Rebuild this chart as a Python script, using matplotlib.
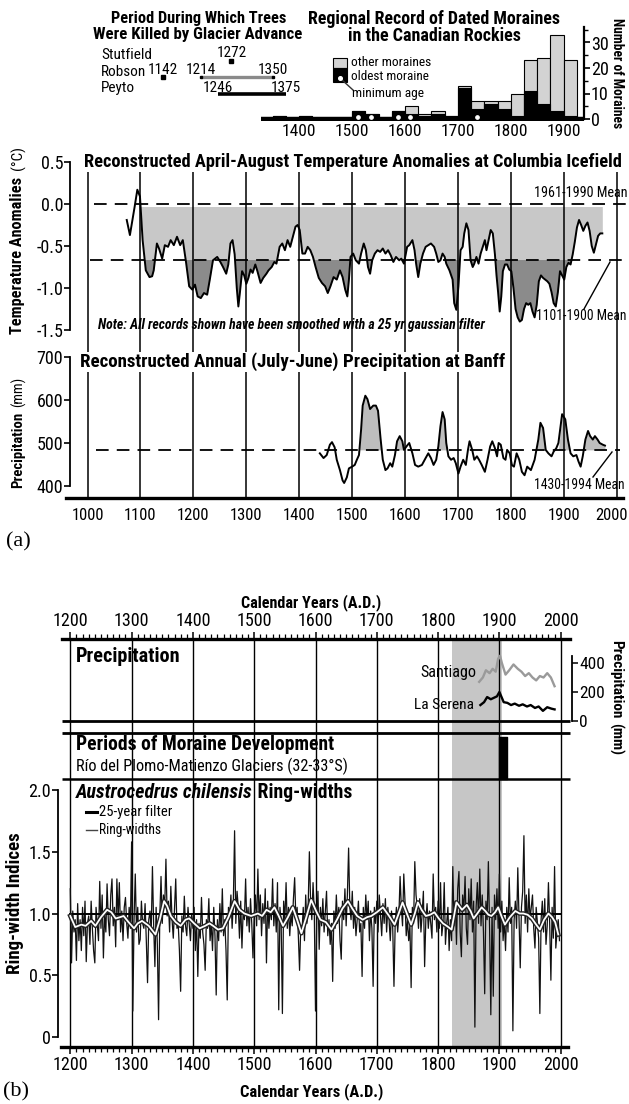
import numpy as np
import matplotlib
matplotlib.use("Agg")
import matplotlib.pyplot as plt
import matplotlib.font_manager as fm
import matplotlib.patheffects as pe
from matplotlib.patches import Rectangle
from matplotlib.lines import Line2D

# ============================ DATA ============================
# (a) period during which trees were killed by glacier advance
stutfield_kill = [1272]
robson_kill_point = [1142]
robson_kill_span = [1214, 1350]
peyto_kill_span = [1246, 1375]

# (a) regional record of dated moraines (25-yr bins)
moraine_bin_start = [1350, 1375, 1400, 1425, 1450, 1475, 1500, 1525, 1550, 1575, 1600, 1625,
                     1650, 1675, 1700, 1725, 1750, 1775, 1800, 1825, 1850, 1875, 1900]
moraine_total = [1, 0, 1, 0, 0, 0, 3, 2, 0, 3, 5, 2, 3, 1, 13, 7, 7, 7, 10, 23, 24, 33, 23]
moraine_oldest = [1, 0, 1, 0, 0, 0, 3, 2, 0, 3, 2, 1, 2, 1, 12, 4, 6, 4, 1, 11, 6, 3, 1]
moraine_min_age = [1511, 1536, 1586, 1610, 1736]
hist_ticks = [1400, 1500, 1600, 1700, 1800, 1900]

# (a) Columbia Icefield April-August temperature anomalies (deg C), 25-yr smoothed
temp_record = [
    (1074, -0.19), (1080, -0.37), (1089, -0.03), (1094, 0.17), (1099, 0.09), (1104, -0.43),
    (1110, -0.79), (1117, -0.87), (1122, -0.86), (1125, -0.79), (1131, -0.47), (1135, -0.53),
    (1141, -0.65), (1146, -0.49), (1152, -0.51), (1157, -0.43), (1163, -0.49), (1169, -0.39),
    (1175, -0.49), (1180, -0.43), (1186, -0.69), (1192, -0.98), (1198, -1.02), (1203, -0.96),
    (1208, -1.10), (1214, -1.12), (1220, -1.06), (1226, -1.08), (1231, -0.90), (1237, -0.67),
    (1245, -0.63), (1251, -0.69), (1256, -0.75), (1262, -0.83), (1266, -0.72), (1270, -0.47),
    (1274, -0.43), (1278, -0.60), (1282, -1.00), (1285, -1.22), (1288, -1.05), (1292, -0.80),
    (1296, -0.85), (1300, -0.95), (1304, -0.88), (1308, -0.78), (1312, -0.82), (1317, -0.72),
    (1321, -0.80), (1327, -0.94), (1332, -0.88), (1338, -0.83), (1342, -0.79), (1348, -0.75),
    (1353, -0.69), (1357, -0.71), (1363, -0.51), (1368, -0.47), (1373, -0.55), (1378, -0.43),
    (1383, -0.51), (1388, -0.39), (1393, -0.27), (1397, -0.25), (1401, -0.31), (1406, -0.59),
    (1411, -0.59), (1416, -0.51), (1421, -0.55), (1426, -0.63), (1431, -0.75), (1437, -0.88),
    (1443, -0.94), (1449, -0.98), (1454, -1.06), (1459, -0.98), (1465, -0.87), (1471, -0.90),
    (1477, -0.79), (1482, -0.87), (1487, -1.02), (1491, -1.10), (1494, -0.90), (1497, -0.63),
    (1502, -0.59), (1507, -0.67), (1513, -0.71), (1517, -0.59), (1522, -0.47), (1526, -0.55),
    (1530, -0.75), (1534, -0.83), (1538, -0.67), (1543, -0.59), (1548, -0.55), (1553, -0.57),
    (1558, -0.53), (1563, -0.59), (1568, -0.55), (1573, -0.61), (1578, -0.69), (1583, -0.63),
    (1589, -0.67), (1593, -0.65), (1598, -0.71), (1604, -0.51), (1608, -0.49), (1614, -0.43),
    (1618, -0.55), (1621, -0.71), (1625, -0.87), (1629, -0.71), (1634, -0.59), (1639, -0.51),
    (1644, -0.49), (1649, -0.47), (1655, -0.51), (1659, -0.59), (1663, -0.69), (1667, -0.67),
    (1671, -0.59), (1675, -0.63), (1678, -0.71), (1684, -0.79), (1690, -0.90), (1693, -1.18),
    (1697, -1.26), (1701, -0.98), (1705, -0.55), (1709, -0.51), (1712, -0.35), (1716, -0.23),
    (1720, -0.31), (1724, -0.67), (1728, -0.75), (1731, -0.71), (1735, -0.63), (1739, -0.71),
    (1743, -0.59), (1747, -0.51), (1751, -0.43), (1754, -0.55), (1758, -0.43), (1762, -0.31),
    (1766, -0.35), (1770, -0.60), (1773, -0.85), (1776, -1.05), (1779, -1.28), (1782, -1.10),
    (1785, -0.80), (1789, -0.72), (1793, -0.72), (1797, -0.78), (1801, -0.80), (1805, -1.00),
    (1809, -1.25), (1813, -1.35), (1817, -1.40), (1821, -1.38), (1825, -1.25), (1829, -1.18),
    (1833, -1.20), (1837, -1.18), (1841, -1.28), (1845, -1.35), (1849, -1.20), (1853, -0.92),
    (1857, -0.85), (1861, -0.88), (1865, -0.90), (1869, -0.92), (1873, -0.95), (1877, -1.05),
    (1881, -1.18), (1885, -1.22), (1889, -1.05), (1893, -0.80), (1897, -0.85), (1901, -0.90),
    (1905, -0.75), (1909, -0.70), (1913, -0.72), (1917, -0.60), (1921, -0.45), (1925, -0.28),
    (1929, -0.19), (1933, -0.25), (1937, -0.32), (1941, -0.26), (1945, -0.22), (1949, -0.32),
    (1953, -0.50), (1957, -0.58), (1961, -0.48), (1965, -0.38), (1969, -0.35), (1973, -0.35),
]
temp_mean_1961_1990 = 0.0
temp_mean_1101_1900 = -0.667
temp_ticks = [0.5, 0.0, -0.5, -1.0, -1.5]

# (a) Banff annual (July-June) precipitation (mm), 25-yr smoothed
banff_record = [
    (1439, 476), (1446, 465), (1452, 472), (1458, 496), (1462, 502), (1467, 490), (1471, 461),
    (1477, 437), (1482, 413), (1485, 407), (1490, 420), (1494, 441), (1500, 445), (1505, 449),
    (1509, 461), (1513, 472), (1517, 531), (1520, 587), (1525, 610), (1529, 602), (1534, 579),
    (1540, 587), (1545, 587), (1549, 575), (1554, 508), (1558, 461), (1563, 437), (1567, 441),
    (1572, 453), (1576, 445), (1581, 472), (1585, 504), (1590, 516), (1595, 504), (1598, 484),
    (1604, 494), (1608, 500), (1614, 476), (1619, 449), (1625, 445), (1632, 449), (1639, 465),
    (1644, 476), (1649, 465), (1654, 449), (1659, 461), (1663, 492), (1667, 539), (1671, 572),
    (1675, 555), (1678, 500), (1682, 469), (1687, 461), (1692, 465), (1696, 453), (1701, 429),
    (1705, 445), (1710, 461), (1715, 449), (1719, 484), (1722, 504), (1727, 484), (1731, 461),
    (1736, 469), (1740, 461), (1745, 449), (1751, 433), (1756, 461), (1761, 492), (1765, 504),
    (1770, 488), (1774, 469), (1777, 500), (1781, 496), (1786, 465), (1790, 461), (1793, 484),
    (1798, 476), (1802, 449), (1806, 445), (1811, 476), (1816, 461), (1821, 433), (1826, 425),
    (1831, 445), (1838, 437), (1845, 461), (1852, 508), (1856, 547), (1861, 535), (1866, 484),
    (1871, 476), (1877, 469), (1881, 480), (1886, 488), (1890, 500), (1897, 567), (1903, 555),
    (1908, 508), (1913, 476), (1918, 469), (1924, 472), (1928, 457), (1932, 445), (1936, 469),
    (1941, 508), (1946, 528), (1950, 516), (1955, 508), (1959, 516), (1964, 508), (1968, 500),
    (1974, 496), (1978, 494),
]
banff_mean = 484
banff_wet_periods = [(1515, 1556), (1585, 1597), (1663, 1679), (1849, 1866), (1892, 1911), (1939, 1978)]
banff_ticks = [400, 500, 600, 700]
axis_years_a = [1000, 1100, 1200, 1300, 1400, 1500, 1600, 1700, 1800, 1900, 2000]

# (b) instrumental precipitation (mm)
santiago_years = [1867, 1873, 1878, 1884, 1889, 1894, 1898, 1901, 1904, 1910, 1916, 1923,
                  1930, 1936, 1942, 1948, 1954, 1960, 1966, 1972, 1978, 1984, 1990]
santiago_precip = [270, 300, 350, 330, 360, 340, 430, 450, 400, 320, 350, 390,
                   360, 340, 310, 330, 300, 280, 310, 300, 330, 300, 240]
laserena_years = [1869, 1875, 1880, 1886, 1891, 1896, 1900, 1903, 1907, 1913, 1919,
                  1925, 1932, 1938, 1945, 1951, 1958, 1964, 1971, 1978, 1985, 1990]
laserena_precip = [110, 130, 165, 150, 160, 170, 200, 170, 130, 125, 110,
                   120, 105, 115, 100, 110, 90, 100, 70, 95, 85, 80]

# (b) moraine development & highlighted period
moraine_dev_periods = [(1900, 1913)]
highlight_period = (1822, 1905)

# (b) Austrocedrus chilensis ring-width indices, every second year 1200-1998
ring_years = list(range(1200, 2000, 2))
ring_width = [
    1.20, 0.60, 1.02, 0.85, 0.95,  0.62, 1.08, 0.78, 0.95, 0.70,  1.05, 0.82, 1.10, 0.61, 0.92,
    0.98, 0.75, 1.10, 0.88, 0.70,  0.60, 1.05, 0.92, 0.78, 1.26,  0.88, 1.15, 0.64, 1.00, 0.85,
    1.24, 0.95, 0.82, 1.15, 1.28,  0.90, 1.05, 0.73, 1.28, 0.95,  1.25, 0.85, 1.02, 0.78, 1.05,
    1.13, 0.92, 0.80, 1.05, 0.88,  1.58, 0.21, 0.95, 1.32, 0.85,  1.05, 0.75, 0.79, 1.10, 0.92,
    0.88, 1.08, 0.78, 0.44, 0.95,  1.02, 0.85, 1.38, 0.90, 0.57,  1.05, 0.75, 0.14, 0.98, 1.30,
    0.92, 1.15, 1.05, 1.44, 0.98,  1.10, 0.85, 1.22, 0.95, 0.80,  1.05, 1.28, 0.88, 0.92, 0.70,
    0.37, 0.98, 0.85, 1.14, 0.90,  0.82, 1.05, 0.92, 0.78, 1.00,  0.88, 1.05, 0.70, 0.95, 0.49,
    0.92, 0.80, 1.13, 0.85, 0.75,  0.54, 0.95, 0.88, 1.12, 0.78,  0.92, 0.70, 1.05, 0.82, 0.34,
    0.95, 0.78, 1.08, 0.85, 1.20,  0.82, 0.95, 0.70, 0.30, 1.05,  0.98, 1.15, 0.88, 1.10, 1.67,
    0.92, 1.18, 1.05, 0.80, 1.10,  0.72, 1.02, 0.95, 1.28, 0.90,  1.05, 0.85, 1.12, 0.92, 0.64,
    0.98, 1.15, 0.90, 1.36, 0.95,  1.15, 0.82, 1.08, 0.92, 1.20,  0.60, 1.10, 0.88, 1.05, 0.95,
    1.28, 0.90, 1.08, 0.85, 1.25,  0.22, 1.05, 0.92, 0.19, 1.10,  0.95, 1.25, 0.88, 1.05, 0.82,
    1.00, 0.90, 1.12, 1.29, 0.95,  1.05, 0.82, 0.54, 0.90, 0.85,  1.05, 0.78, 1.15, 0.92, 1.05,
    1.50, 1.10, 0.95, 1.25, 1.02,  0.21, 0.95, 1.18, 0.71, 1.05,  0.90, 1.12, 0.85, 1.02, 1.18,
    0.82, 0.95, 0.75, 0.92, 0.45,  1.02, 0.88, 1.15, 0.92, 1.05,  0.78, 0.63, 1.10, 0.95, 1.20,
    0.90, 1.15, 1.53, 1.05, 0.95,  1.18, 0.88, 1.05, 0.82, 0.95,  1.10, 0.85, 0.92, 0.49, 1.05,
    0.88, 1.15, 0.95, 1.10, 0.78,  1.02, 0.88, 0.41, 1.05, 0.92,  1.10, 0.85, 1.15, 0.98, 0.82,
    1.08, 0.92, 1.12, 0.85, 1.05,  0.95, 0.78, 1.02, 0.88, 0.41,  0.92, 1.05, 0.85, 0.98, 1.30,
    1.05, 0.90, 1.32, 1.10, 0.82,  0.95, 0.78, 0.90, 0.40, 1.05,  0.92, 1.42, 1.15, 1.05, 0.88,
    1.12, 0.85, 1.00, 1.18, 0.57,  0.95, 1.08, 0.88, 1.02, 0.92,  0.80, 1.32, 0.95, 1.05, 0.85,
    1.10, 0.88, 1.25, 0.82, 0.92,  1.25, 0.75, 0.92, 1.05, 0.70,  0.95, 0.78, 1.38, 0.90, 1.10,
    0.75, 1.20, 1.34, 0.85, 0.65,  1.15, 1.02, 1.30, 0.88, 0.75,  1.20, 0.95, 1.28, 0.85, 1.10,
    0.08, 1.05, 1.25, 0.92, 1.36,  0.90, 1.15, 0.85, 0.35, 1.10,  0.95, 1.42, 0.88, 0.18, 1.05,
    0.33, 1.15, 0.95, 1.20, 0.88,  1.32, 0.85, 1.10, 0.78, 0.95,  0.70, 1.05, 0.85, 1.29, 0.92,
    1.05, 0.05, 0.95, 1.10, 0.88,  1.37, 0.95, 0.56, 1.05, 1.18,  1.63, 0.92, 1.15, 0.85, 1.20,
    0.95, 1.05, 1.15, 0.88, 0.72,  1.05, 0.92, 0.80, 0.19, 0.95,  1.10, 0.85, 1.12, 0.75, 0.90,
    1.25, 0.92, 0.46, 1.05, 0.80,  1.38, 0.72, 0.85, 0.95, 0.78,
]
# 25-year filter of ring widths
ring_filter = [
    (1200, 0.98), (1208, 0.89), (1218, 0.91), (1225, 0.90), (1234, 0.94), (1241, 0.90), (1250, 0.97),
    (1260, 1.03), (1267, 1.01), (1274, 0.96), (1281, 0.97), (1287, 0.98), (1295, 0.93), (1304, 0.88),
    (1310, 0.92), (1317, 0.94), (1328, 0.90), (1339, 0.83), (1346, 0.95), (1353, 1.10), (1358, 1.06),
    (1364, 0.98), (1372, 0.93), (1380, 0.90), (1388, 0.95), (1394, 0.96), (1402, 0.92), (1411, 0.88),
    (1420, 0.90), (1427, 0.92), (1433, 0.90), (1441, 0.87), (1449, 0.88), (1458, 0.97), (1468, 1.10),
    (1476, 1.03), (1484, 1.00), (1495, 0.98), (1506, 1.00), (1513, 0.98), (1520, 1.03), (1527, 1.01),
    (1533, 1.05), (1540, 0.98), (1547, 0.90), (1555, 0.97), (1563, 1.05), (1570, 0.95), (1577, 0.84),
    (1585, 0.97), (1593, 1.11), (1601, 1.02), (1608, 0.95), (1617, 0.93), (1626, 0.87), (1635, 0.95),
    (1644, 1.04), (1653, 1.10), (1660, 1.04), (1668, 0.98), (1677, 0.95), (1684, 0.97), (1691, 0.98),
    (1700, 1.01), (1710, 1.05), (1720, 0.98), (1729, 0.91), (1735, 0.99), (1742, 1.09), (1749, 1.00),
    (1756, 0.91), (1762, 1.00), (1767, 1.09), (1773, 1.03), (1780, 0.98), (1787, 0.99), (1794, 1.01),
    (1801, 0.96), (1808, 0.92), (1814, 0.90), (1822, 0.87), (1830, 1.09), (1839, 1.03), (1847, 1.07),
    (1853, 1.02), (1858, 0.96), (1864, 1.00), (1871, 1.05), (1877, 1.02), (1882, 0.99), (1887, 0.98),
    (1893, 1.01), (1898, 1.05), (1904, 0.97), (1909, 0.91), (1917, 0.97), (1926, 1.02), (1933, 1.00),
    (1939, 1.00), (1946, 0.99), (1953, 0.96), (1960, 0.91), (1966, 0.87), (1973, 0.95), (1980, 1.00),
    (1986, 0.97), (1991, 0.93), (1996, 0.83),
]
axis_years_b = [1200, 1300, 1400, 1500, 1600, 1700, 1800, 1900, 2000]

# ============================ FIGURE ============================
avail = {f.name for f in fm.fontManager.ttflist}
COND = next((c for c in ['Liberation Sans Narrow', 'Arial Narrow', 'Nimbus Sans Narrow',
                         'Roboto Condensed'] if c in avail), 'Liberation Sans')
SERIF = 'Liberation Serif' if 'Liberation Serif' in avail else 'DejaVu Serif'
plt.rcParams['font.family'] = [COND, 'DejaVu Sans']
plt.rcParams['axes.unicode_minus'] = False

W, H = 629, 1104
fig = plt.figure(figsize=(W / 100, H / 100), dpi=100)
fig.patch.set_facecolor('white')
R = fig.canvas.get_renderer()


def fx(x):
    return x / W


def fy(y):
    return 1 - y / H


def ax_px(x0, y0, x1, y1, z=1):
    a = fig.add_axes([x0 / W, 1 - y1 / H, (x1 - x0) / W, (y1 - y0) / H])
    a.set_zorder(z)
    a.patch.set_visible(False)
    return a


def put(x, y, s, size=11, weight='normal', style='normal', ha='left', va='center',
        width=None, family=None, rotation=0, color='black', bg=False):
    kw = {}
    if bg:
        kw['bbox'] = dict(facecolor='white', edgecolor='none', pad=0.5)
    t = fig.text(fx(x), fy(y), s, fontsize=size, fontweight=weight, fontstyle=style,
                 ha=ha, va=va, family=family or [COND, 'DejaVu Sans'], rotation=rotation,
                 color=color, zorder=20, **kw)
    if width:
        bb = t.get_window_extent(R)
        w = bb.width if rotation == 0 else bb.height
        if w > 0:
            t.set_fontsize(size * width / w)
    return t


def line_px(x0, y0, x1, y1, lw=1.0, color='k'):
    fig.add_artist(Line2D([fx(x0), fx(x1)], [fy(y0), fy(y1)], lw=lw, color=color,
                          transform=fig.transFigure, zorder=20))


def rect_px(x0, y0, x1, y1, fc, ec='k', lw=0.8):
    fig.add_artist(Rectangle((fx(x0), fy(y1)), (x1 - x0) / W, (y1 - y0) / H, facecolor=fc,
                             edgecolor=ec, lw=lw, transform=fig.transFigure, zorder=20))


def clean(a, keep=()):
    for s in ['top', 'bottom', 'left', 'right']:
        a.spines[s].set_visible(s in keep)


# ---------------- panel (a) ----------------
A0, AS = 87.6, 0.529


def yrA(p):
    return 1000 + (p - A0) / AS


XA = (yrA(60), yrA(629))

# titles top-left / top-right
put(199, 18, 'Period During Which Trees', weight='bold', ha='center', width=174)
put(198, 34, 'Were Killed by Glacier Advance', weight='bold', ha='center', width=208)
put(434, 19, 'Regional Record of Dated Moraines', weight='bold', ha='center', width=252)
put(434, 36, 'in the Canadian Rockies', weight='bold', ha='center', width=172)

# timeline
tl = ax_px(60, 40, 629, 100, z=2)
tl.set_xlim(XA)
tl.set_ylim(100, 40)
tl.axis('off')
put(101, 55, 'Stutfield', size=11)
put(101, 72, 'Robson', size=11)
put(101, 88, 'Peyto', size=11)
tl.plot(stutfield_kill, [61], 's', color='k', ms=2.2)
tl.text(stutfield_kill[0], 53, str(stutfield_kill[0]), ha='center', va='center', fontsize=11)
tl.plot(robson_kill_point, [77], 's', color='k', ms=2.2)
tl.text(robson_kill_point[0], 70.5, str(robson_kill_point[0]), ha='center', va='center', fontsize=11)
tl.plot(robson_kill_span, [77, 77], color='#8a8a8a', lw=2.4, solid_capstyle='butt')
tl.plot(robson_kill_span, [77, 77], 's', color='k', ms=2)
for yv in robson_kill_span:
    tl.text(yv, 70.5, str(yv), ha='center', va='center', fontsize=11)
tl.plot(peyto_kill_span, [94, 94], color='k', lw=2.6, solid_capstyle='butt')
for yv in peyto_kill_span:
    tl.text(yv, 87.5, str(yv), ha='center', va='center', fontsize=11)

# moraine histogram
hx = ax_px(60, 27, 629, 121, z=2)
hx.set_xlim(XA)
hx.set_ylim((119 - 121) / 2.55, (119 - 27) / 2.55)
hx.bar(moraine_bin_start, moraine_total, width=25, align='edge', color='#d3d3d3',
       edgecolor='k', lw=0.8)
hx.bar(moraine_bin_start, moraine_oldest, width=25, align='edge', color='k', edgecolor='k', lw=0.8)
hx.hlines(0, yrA(261), 1938, color='k', lw=3.2)
hx.plot(moraine_min_age, [0.7] * len(moraine_min_age), 'o', ms=2.4, mfc='white', mec='white')
clean(hx, keep=('right',))
hx.spines['right'].set_position(('data', 1938))
hx.spines['right'].set_bounds(0, 36)
hx.spines['right'].set_linewidth(1.6)
hx.yaxis.tick_right()
hx.set_yticks([0, 10, 20, 30])
hx.set_yticks([5, 15, 25, 35], minor=True)
hx.tick_params(axis='y', which='major', length=4, width=1.2, labelsize=13, pad=1)
hx.tick_params(axis='y', which='minor', length=3, width=1.0)
hx.set_xticks(hist_ticks)
hx.tick_params(axis='x', length=0, labelsize=12.5, pad=2)
put(617, 73, 'Number of Moraines', weight='bold', ha='center', rotation=-90, width=110)

# legend of histogram
rect_px(333, 58, 347, 68, '#d3d3d3')
rect_px(333, 68, 347, 82, 'k')
fig.add_artist(Line2D([fx(340)], [fy(78)], marker='o', ms=2.6, mfc='white', mec='white',
                      transform=fig.transFigure, zorder=21))
line_px(341, 79, 353, 90, lw=1.0, color='#333333')
put(351, 63, 'other moraines', width=80)
put(351, 77, 'oldest moraine', width=78)
put(352, 93, 'minimum age', width=71)

# temperature panel
def tv_y(y):
    return (204 - y) / 84


t_years = np.array([p[0] for p in temp_record], dtype=float)
t_vals = np.array([p[1] for p in temp_record])
at = ax_px(70, 150, 629, 345, z=2)
at.set_xlim(yrA(70), yrA(629))
at.set_ylim(tv_y(345), tv_y(150))
span = (t_years >= 1099) & (t_years <= 1973)
at.fill_between(t_years, -0.03, t_vals, where=span & (t_vals <= -0.03), interpolate=True,
                color='#c8c8c8', lw=0)
at.fill_between(t_years, temp_mean_1101_1900, t_vals, where=span & (t_vals <= temp_mean_1101_1900),
                interpolate=True, color='#8b8b8b', lw=0)
at.plot([yrA(94), yrA(628)], [temp_mean_1961_1990] * 2, color='k', lw=1.3, dashes=(7, 4.5))
at.plot([yrA(90), yrA(628)], [temp_mean_1101_1900] * 2, color='k', lw=1.3, dashes=(7, 4.5))
at.plot(t_years, t_vals, color='k', lw=1.4)
clean(at, keep=('left',))
at.spines['left'].set_bounds(-1.5, 0.5)
at.spines['left'].set_linewidth(1.3)
at.set_xticks([])
at.set_yticks(temp_ticks)
at.set_yticklabels(['0.5', '0.0', '-0.5', '-1.0', '-1.5'])
at.tick_params(axis='y', length=4, width=1.2, labelsize=13, pad=1)
put(84, 162, 'Reconstructed April-August Temperature Anomalies at Columbia Icefield',
    weight='bold', width=536, bg=True)
put(627, 193, '1961-1990 Mean', ha='right', width=93)
put(627, 316, '1101-1900 Mean', ha='right', width=90)
line_px(610, 262, 584, 309, lw=1.0)
put(98, 325, 'Note: All records shown have been smoothed with a 25 yr gaussian filter',
    weight='bold', style='italic', width=386)
tl_lab = put(18, 255, 'Temperature Anomalies', weight='bold', ha='center', rotation=90, width=156)
put(18, 158, '(°C)', ha='center', rotation=90, size=tl_lab.get_fontsize() * 0.95)

# Banff precipitation panel
def pv_y(y):
    return 500 + (443 - y) / 0.43


b_years = np.array([p[0] for p in banff_record], dtype=float)
b_vals = np.array([p[1] for p in banff_record], dtype=float)
ap = ax_px(70, 345, 629, 500, z=2)
ap.set_xlim(yrA(70), yrA(629))
ap.set_ylim(pv_y(500), pv_y(345))
for (s0, s1) in banff_wet_periods:
    m = (b_years >= s0) & (b_years <= s1)
    ap.fill_between(b_years, banff_mean, b_vals, where=m & (b_vals >= banff_mean),
                    interpolate=True, color='#bdbdbd', lw=0)
ap.plot([yrA(96), yrA(620)], [banff_mean] * 2, color='k', lw=1.3, dashes=(7, 4.5))
ap.plot(b_years, b_vals, color='k', lw=1.4)
clean(ap, keep=('left',))
ap.spines['left'].set_bounds(400, 700)
ap.spines['left'].set_linewidth(1.3)
ap.set_xticks([])
ap.set_yticks(banff_ticks)
ap.tick_params(axis='y', length=4, width=1.2, labelsize=13, pad=1)
put(80, 362, 'Reconstructed Annual (July-June) Precipitation at Banff', weight='bold',
    width=424, bg=True)
put(625, 485, '1430-1994 Mean', ha='right', width=90)
line_px(612, 452, 593, 477, lw=1.0)
pl_lab = put(18, 450, 'Precipitation', weight='bold', ha='center', rotation=90, width=76)
put(18, 392, '(mm)', ha='center', rotation=90, size=pl_lab.get_fontsize() * 0.95)

# vertical grid + bottom axis of (a)
ag = ax_px(60, 168, 629, 498, z=3)
ag.set_xlim(XA)
ag.set_ylim(0, 1)
ag.vlines(axis_years_a, 0, 1, color='k', lw=1.1)
clean(ag, keep=('bottom',))
ag.spines['bottom'].set_linewidth(2.4)
ag.spines['bottom'].set_bounds(yrA(66), yrA(623))
ag.set_yticks([])
ag.set_xticks(axis_years_a)
ag.set_xticklabels([str(v) for v in axis_years_a[:-1]] + [''])
ag.tick_params(axis='x', length=0, labelsize=12, pad=7)
put(612, 515, str(axis_years_a[-1]), ha='center', size=12)
put(6, 542, '(a)', family=SERIF, size=16)

# ---------------- panel (b) ----------------
B0, BS = 70.3, 0.613


def yrB(p):
    return 1200 + (p - B0) / BS


bg = ax_px(40, 639, 600, 1047, z=1)
bg.set_xlim(yrB(40), yrB(600))
bg.set_ylim(1047, 639)
bg.axvspan(highlight_period[0], highlight_period[1], color='#c6c6c6', lw=0, zorder=0)
bg.vlines(axis_years_b, 639, 1047, color='k', lw=1.0, zorder=1)
bg.hlines([721, 733], yrB(62), yrB(570), color='k', lw=2.0, zorder=2)
bg.hlines([779], yrB(62), yrB(570), color='k', lw=1.8, zorder=2)
bg.broken_barh([(p0, p1 - p0) for (p0, p1) in moraine_dev_periods], (737, 42), color='k', zorder=3)
clean(bg, keep=('top', 'bottom'))
bg.spines['top'].set_linewidth(2.4)
bg.spines['bottom'].set_linewidth(2.4)
bg.spines['top'].set_bounds(yrB(62), yrB(570))
bg.spines['bottom'].set_bounds(yrB(61), yrB(568))
bg.set_yticks([])
bg.set_xticks(axis_years_b)
bg.set_xticks(list(range(1200, 2001, 10)), minor=True)
bg.tick_params(axis='x', which='both', top=True, bottom=True, labeltop=True, labelbottom=True,
               direction='out')
bg.tick_params(axis='x', which='major', length=5, width=1.1, labelsize=13, pad=1.5)
bg.tick_params(axis='x', which='minor', length=3.5, width=0.9)
put(311, 603, 'Calendar Years (A.D.)', weight='bold', ha='center', width=140)
put(312, 1092, 'Calendar Years (A.D.)', weight='bold', ha='center', width=143)
put(3, 1092, '(b)', family=SERIF, size=16)

# precipitation (b)
bp = ax_px(40, 645, 572, 721, z=2)
bp.set_xlim(yrB(40), yrB(572))
bp.set_ylim(0, (721 - 645) / 0.145)
bp.plot(santiago_years, santiago_precip, color='#9a9a9a', lw=1.7)
bp.plot(laserena_years, laserena_precip, color='k', lw=1.7)
clean(bp, keep=('right',))
bp.spines['right'].set_bounds(0, 450)
bp.spines['right'].set_linewidth(1.3)
bp.yaxis.tick_right()
bp.set_xticks([])
bp.set_yticks([0, 200, 400])
bp.tick_params(axis='y', length=4, width=1.1, labelsize=12.5, pad=1)
put(76, 656, 'Precipitation', weight='bold', width=104)
put(420, 673, 'Santiago', width=56)
put(414, 705, 'La Serena', width=60)
pr_lab = put(616, 679, 'Precipitation', weight='bold', ha='center', rotation=-90, width=78)
put(616, 739, '(mm)', weight='bold', ha='center', rotation=-90, size=pr_lab.get_fontsize())
put(76, 745, 'Periods of Moraine Development', weight='bold', width=257)
put(76, 766, 'Río del Plomo-Matienzo Glaciers (32-33°S)', width=273)

# ring widths
def rv_y(y):
    return (1037 - y) / 123.5


ar = ax_px(58, 779, 600, 1047, z=2)
ar.set_xlim(yrB(58), yrB(600))
ar.set_ylim(rv_y(1047), rv_y(779))
ar.plot([1200, 2000], [1, 1], color='k', lw=1.4, zorder=3)
ar.plot(ring_years, ring_width, color='#111111', lw=0.9, zorder=2)
f_years = [p[0] for p in ring_filter]
f_vals = [p[1] for p in ring_filter]
ar.plot(f_years, f_vals, color='white', lw=1.3, zorder=4,
        path_effects=[pe.Stroke(linewidth=3.3, foreground='#222222'), pe.Normal()])
clean(ar, keep=('left',))
ar.spines['left'].set_bounds(0, 2)
ar.spines['left'].set_linewidth(1.3)
ar.set_xticks([])
ar.set_yticks([0, 0.5, 1.0, 1.5, 2.0])
ar.set_yticklabels(['0', '0.5', '1.0', '1.5', '2.0'])
ar.tick_params(axis='y', length=4, width=1.2, labelsize=13, pad=1)
t1 = put(76, 793, 'Austrocedrus chilensis', weight='bold', style='italic', size=13.5)
t2 = put(76, 793, ' Ring-widths', weight='bold', size=13.5)
w1 = t1.get_window_extent(R).width
w2 = t2.get_window_extent(R).width
k = 277.0 / (w1 + w2)
t1.set_fontsize(13.5 * k)
t2.set_fontsize(13.5 * k)
t2.set_x(fx(76 + w1 * k))
line_px(86, 812, 97, 812, lw=2.2)
line_px(86, 830, 97, 830, lw=1.0, color='#444444')
put(99, 812, '25-year filter', width=73)
put(99, 830, 'Ring-widths', width=62)
put(15, 903, 'Ring-width Indices', weight='bold', ha='center', rotation=90, width=140)

fig.savefig('out.png', dpi=100, facecolor='white')
